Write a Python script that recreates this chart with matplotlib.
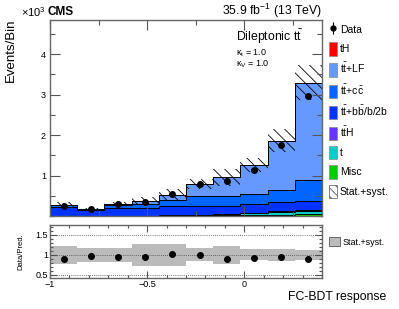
import numpy as np
import matplotlib.pyplot as plt
from matplotlib.patches import Patch
from matplotlib.lines import Line2D
from matplotlib.ticker import MultipleLocator

plt.rcParams['font.family'] = ['Liberation Sans', 'DejaVu Sans']
plt.rcParams['mathtext.fontset'] = 'custom'
plt.rcParams['mathtext.rm'] = 'Liberation Sans'
plt.rcParams['mathtext.it'] = 'Liberation Sans:italic'
plt.rcParams['hatch.linewidth'] = 0.6

# binning of the FC-BDT response
edges = [-1.0, -0.86, -0.72, -0.58, -0.44, -0.30, -0.16, -0.02, 0.12, 0.26, 0.40]

# stacked backgrounds (x10^3 events), bottom -> top
misc = [0.005, 0.003, 0.005, 0.005, 0.008, 0.02, 0.02, 0.02, 0.03, 0.04]
t_single = [0.003, 0.002, 0.003, 0.004, 0.006, 0.01, 0.015, 0.05, 0.07, 0.09]
tth = [0.002, 0.001, 0.002, 0.003, 0.004, 0.006, 0.008, 0.012, 0.02, 0.03]
ttbb = [0.20, 0.13, 0.19, 0.19, 0.22, 0.22, 0.20, 0.22, 0.22, 0.22]
ttcc = [0.06, 0.03, 0.08, 0.09, 0.15, 0.23, 0.26, 0.25, 0.30, 0.50]
ttlf = [0.012, 0.009, 0.025, 0.078, 0.13, 0.30, 0.45, 0.70, 1.22, 2.41]
th = [0.0005, 0.0003, 0.0005, 0.0005, 0.001, 0.001, 0.001, 0.002, 0.003, 0.004]

data = [0.25, 0.17, 0.29, 0.35, 0.54, 0.79, 0.86, 1.14, 1.75, 2.96]
data_err = [0.016, 0.013, 0.017, 0.019, 0.023, 0.028, 0.029, 0.034, 0.042, 0.054]

ratio = [0.90, 0.97, 0.95, 0.95, 1.03, 1.00, 0.90, 0.91, 0.94, 0.90]
ratio_err = [0.02, 0.06, 0.02, 0.02, 0.02, 0.02, 0.02, 0.02, 0.02, 0.02]
band_lo = [0.77, 0.82, 0.83, 0.72, 0.72, 0.85, 0.77, 0.87, 0.85, 0.87]
band_hi = [1.23, 1.18, 1.17, 1.27, 1.27, 1.17, 1.22, 1.15, 1.15, 1.13]

components = [
    ('Misc', misc, '#00cc00'),
    ('t', t_single, '#00cccc'),
    (r'$\mathrm{t\bar{t}H}$', tth, '#6633ff'),
    (r'$\mathrm{t\bar{t}{+}b\bar{b}/b/2b}$', ttbb, '#0033ff'),
    (r'$\mathrm{t\bar{t}{+}c\bar{c}}$', ttcc, '#0066ff'),
    (r'$\mathrm{t\bar{t}{+}LF}$', ttlf, '#6699ff'),
    ('tH', th, '#ff0000'),
]

edges = np.array(edges)
centers = 0.5 * (edges[:-1] + edges[1:])
widths = np.diff(edges)

fig = plt.figure(figsize=(3.99, 3.09), dpi=100)
ax = fig.add_axes([50 / 399, 1 - 216 / 309, 272 / 399, 196 / 309])
rax = fig.add_axes([50 / 399, 1 - 278 / 309, 272 / 399, 53 / 309])

base = np.zeros(len(centers))
for name, vals, col in components:
    vals = np.array(vals)
    ax.stairs(base + vals, edges, baseline=base, fill=True, color=col, lw=0)
    ax.stairs(base + vals, edges, color='black', lw=0.7)
    base = base + vals
total = base

# stat+syst hatched band
ax.bar(edges[:-1], total * (np.array(band_hi) - np.array(band_lo)),
       bottom=total * np.array(band_lo), width=widths, align='edge',
       fill=False, hatch='\\\\\\', edgecolor='black', linewidth=0)

ax.errorbar(centers, data, yerr=data_err, fmt='o', color='black', ms=4, lw=0.8)

ax.set_xlim(-1, 0.4)
ax.set_ylim(0, 4.84)
ax.yaxis.set_major_locator(MultipleLocator(1))
ax.yaxis.set_minor_locator(MultipleLocator(0.5))
ax.xaxis.set_major_locator(MultipleLocator(0.5))
ax.xaxis.set_minor_locator(MultipleLocator(0.25))
ax.set_yticks([1, 2, 3, 4])
ax.tick_params(axis='both', which='both', direction='in', top=True, right=True,
               labelsize=6.5, colors='#555555', labelcolor='black', pad=3)
ax.tick_params(which='major', length=7, width=0.8)
ax.tick_params(which='minor', length=3.5, width=0.8)
ax.tick_params(axis='x', labelbottom=False)
for s in ax.spines.values():
    s.set_color('#666666')
    s.set_linewidth(1)

fig.text(11 / 399, 1 - 18 / 309, 'Events/Bin', fontsize=9.5, rotation=90,
         ha='center', va='top')
fig.text(21 / 399, 1 - 12 / 309, r'$\times10^{3}$', fontsize=8, va='center')
fig.text(48 / 399, 1 - 12 / 309, 'CMS', fontsize=8.5, fontweight='bold', va='center')
fig.text(322 / 399, 1 - 11 / 309, r'35.9 fb$^{-1}$ (13 TeV)', fontsize=8.8, ha='right', va='center')
ax.text(236 / 399, 1 - 37 / 309, r'Dileptonic $\mathrm{t\bar{t}}$', fontsize=8.8,
        transform=fig.transFigure, va='center')
ax.text(236 / 399, 1 - 53 / 309, r'κ$_\mathrm{t}$ = 1.0', fontsize=6.5,
        transform=fig.transFigure, va='center')
ax.text(236 / 399, 1 - 64 / 309, r'κ$_\mathrm{V}$ = 1.0', fontsize=6.5,
        transform=fig.transFigure, va='center')

# legend
data_handle = (Line2D([0], [0], marker='|', color='black', ms=8, mew=0.8, ls='none'),
               Line2D([0], [0], marker='o', color='black', ms=3.5, ls='none'))
handles = [data_handle]
labels = ['Data']
for name, vals, col in components[::-1]:
    handles.append(Patch(facecolor=col, edgecolor='#888888', lw=0.5))
    labels.append(name)
handles.append(Patch(facecolor='white', edgecolor='#555555', hatch='\\\\\\\\', lw=0.5))
labels.append('Stat.+syst.')
fig.legend(handles, labels, loc='upper left', bbox_to_anchor=(329 / 399, 1 - 23 / 309),
           frameon=False, fontsize=7.5, handlelength=0.75, handleheight=1.6,
           handletextpad=0.3, labelspacing=0.56, borderaxespad=0, borderpad=0)

# ratio panel
for i in range(len(centers)):
    rax.fill_between([edges[i], edges[i + 1]], band_lo[i], band_hi[i],
                     color='#bbbbbb', lw=0)
rax.errorbar(centers, ratio, yerr=ratio_err, fmt='o', color='black', ms=4, lw=0.8)
for yv in [0.5, 1.0, 1.5]:
    rax.axhline(yv, color='#444444', lw=0.6, ls=(0, (1, 1.5)))
rax.set_xlim(-1, 0.4)
rax.set_ylim(0.42, 1.75)
rax.set_yticks([0.5, 1, 1.5])
rax.set_yticklabels(['0.5', '1', '1.5'])
rax.yaxis.set_minor_locator(MultipleLocator(0.1))
rax.xaxis.set_major_locator(MultipleLocator(0.5))
rax.xaxis.set_minor_locator(MultipleLocator(0.1))
rax.set_xticks([-1, -0.5, 0])
rax.set_xticklabels(['\u22121', '\u22120.5', '0'])
rax.tick_params(axis='both', which='both', direction='in', top=True, right=True,
                labelsize=6.5, colors='#555555', labelcolor='black', pad=1.5)
rax.tick_params(which='major', length=5, width=0.8)
rax.tick_params(which='minor', length=2.5, width=0.8)
rax.set_ylabel('Data/Pred.', fontsize=5.5, labelpad=8)
for s in rax.spines.values():
    s.set_color('#666666')
    s.set_linewidth(1)
fig.text(386 / 399, 1 - 297 / 309, 'FC-BDT response', fontsize=8.8, ha='right', va='center')

rax.legend([Patch(facecolor='#bbbbbb', edgecolor='#555555', lw=0.6)], ['Stat.+syst.'],
           loc='upper left', bbox_to_anchor=(329 / 399, 1 - 237 / 309),
           bbox_transform=fig.transFigure, frameon=False, fontsize=6.5,
           handlelength=1.2, handleheight=1.2, handletextpad=0.3,
           borderaxespad=0, borderpad=0)

fig.savefig('out.png', dpi=100)
